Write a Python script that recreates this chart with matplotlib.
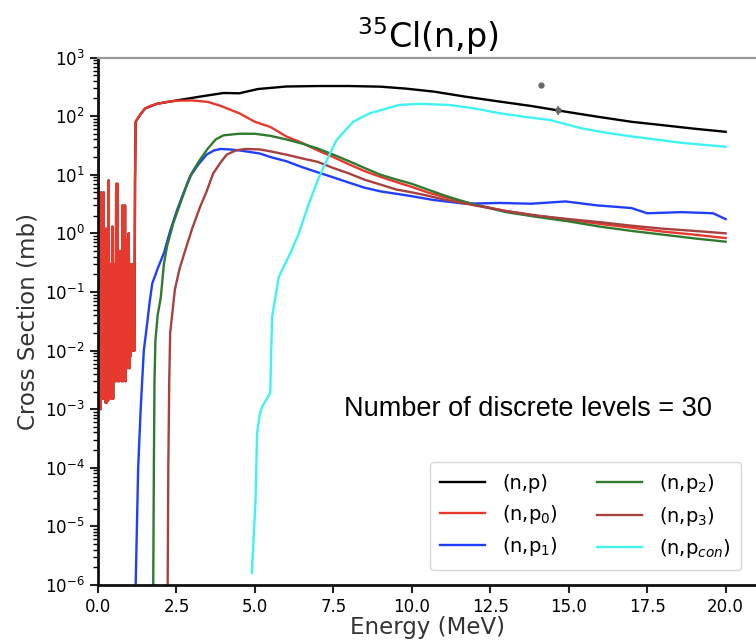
import numpy as np
import matplotlib
matplotlib.use("Agg")
import matplotlib.pyplot as plt
from matplotlib.ticker import LogLocator, NullFormatter

# resonance region of (n,p0), shared with the total below 1.2 MeV
res_E = [0.00, 0.02, 0.04, 0.06, 0.08, 0.10, 0.12, 0.14, 0.16, 0.18,
         0.20, 0.22, 0.24, 0.26, 0.28, 0.30, 0.32, 0.34, 0.36, 0.38,
         0.40, 0.42, 0.44, 0.46, 0.48, 0.50, 0.52, 0.54, 0.56, 0.58,
         0.60, 0.62, 0.64, 0.66, 0.68, 0.70, 0.72, 0.74, 0.76, 0.78,
         0.80, 0.82, 0.84, 0.86, 0.88, 0.90, 0.92, 0.94, 0.96, 0.98,
         1.00, 1.02, 1.04, 1.06, 1.08, 1.10, 1.12, 1.14, 1.16, 1.18]
res_xs = [500, 5, 0.002, 4, 0.001, 5, 0.0015, 0.5, 0.002, 5,
          0.0015, 0.3, 0.0013, 1.2, 0.0013, 0.3, 0.0014, 8, 0.0015, 0.3,
          0.002, 0.3, 0.0015, 1.3, 0.0015, 0.3, 0.003, 0.1, 0.003, 7,
          0.004, 7, 0.003, 0.3, 0.003, 0.5, 0.004, 0.3, 0.003, 3,
          0.003, 0.3, 0.004, 3, 0.003, 0.8, 0.005, 0.2, 0.006, 1.0,
          0.005, 0.3, 0.008, 0.1, 0.01, 0.3, 0.01, 0.05, 0.01, 8]

np_E = [1.2, 1.34, 1.5, 1.87, 2.5, 3.25, 4.0, 4.5, 5.1, 6.0, 7.0, 8.0, 9.0,
        9.8, 10.7, 11.7, 12.8, 13.8, 14.9, 15.9, 17.0, 18.0, 19.0, 20.0]
np_xs = [80, 105, 135, 162, 185, 215, 248, 245, 290, 320, 326, 326, 318,
         295, 262, 215, 177, 149, 119, 98, 80, 70, 61, 54]

p0_E = [1.2, 1.34, 1.5, 1.7, 1.9, 2.2, 2.5, 3.0, 3.5, 3.9, 4.5, 5.0, 5.5,
        6.0, 6.5, 7.0, 7.5, 8.0, 8.5, 9.0, 9.5, 10.0, 10.5, 11.0, 11.5,
        12.0, 13.0, 14.0, 15.0, 16.0, 17.0, 18.0, 19.0, 20.0]
p0_xs = [80, 105, 135, 152, 162, 175, 183, 185, 175, 150, 112, 80, 65,
         45, 35, 26, 20, 15, 11.5, 9.2, 7.5, 6.2, 5.0, 4.2, 3.6,
         3.1, 2.4, 2.0, 1.7, 1.45, 1.25, 1.07, 0.95, 0.83]

p1_E = [1.2, 1.24, 1.28, 1.36, 1.46, 1.57, 1.65, 1.73, 1.9, 2.1, 2.3, 2.52,
        2.7, 2.93, 3.2, 3.46, 3.7, 3.9, 4.2, 4.5, 5.16, 5.5, 6.0, 6.5, 7.0,
        7.5, 8.04, 8.5, 9.0, 9.54, 10.0, 10.7, 11.7, 12.8, 13.8, 14.9, 15.9,
        17.0, 17.5, 18.6, 19.6, 20.0]
p1_xs = [1e-6, 1e-5, 1e-4, 1e-3, 1e-2, 0.03, 0.07, 0.14, 0.25, 0.46, 1.1, 2.5,
         4.5, 9.3, 15, 22, 26, 27.5, 27, 26, 23, 20, 17, 13.5, 11,
         9, 7.2, 6.0, 5.2, 4.7, 4.3, 3.7, 3.2, 3.3, 3.2, 3.5, 3.0,
         2.7, 2.2, 2.3, 2.2, 1.75]

p2_E = [1.76, 1.78, 1.80, 1.83, 1.9, 2.0, 2.1, 2.2, 2.4, 2.6, 2.8, 3.0, 3.25,
        3.5, 3.75, 4.0, 4.5, 5.0, 5.5, 6.0, 6.5, 7.0, 7.5, 8.0, 8.5, 9.0,
        9.5, 10.0, 10.5, 11.0, 11.5, 12.0, 13.0, 14.0, 15.0, 16.0, 17.0,
        18.0, 19.0, 20.0]
p2_xs = [1e-6, 1e-4, 3e-3, 0.015, 0.04, 0.08, 0.3, 0.6, 1.5, 3, 6, 11, 18,
         28, 40, 47, 50, 50, 46, 40, 34, 28, 22, 17, 13, 10,
         8.3, 7.0, 5.6, 4.5, 3.7, 3.1, 2.3, 1.9, 1.6, 1.3, 1.1,
         0.95, 0.82, 0.72]

p3_E = [2.22, 2.24, 2.27, 2.3, 2.45, 2.6, 2.82, 3.0, 3.25, 3.45, 3.67, 3.9,
        4.1, 4.4, 4.7, 5.16, 5.5, 6.0, 6.5, 7.0, 7.5, 8.0, 8.5, 9.0, 9.5,
        10.0, 10.5, 11.0, 12.0, 13.0, 14.0, 15.0, 16.0, 17.0, 18.0, 19.0, 20.0]
p3_xs = [1e-6, 1e-4, 3e-3, 0.02, 0.11, 0.25, 0.6, 1.2, 2.8, 5, 10.5, 16,
         22, 26, 27.5, 27, 25, 22, 19, 16.6, 13, 10.5, 8.2, 6.8, 5.6,
         5.0, 4.4, 3.8, 3.0, 2.4, 2.0, 1.75, 1.55, 1.35, 1.2, 1.1, 1.0]

pcon_E = [4.9, 4.95, 5.02, 5.07, 5.15, 5.23, 5.49, 5.52, 5.55, 5.76, 6.13,
          6.4, 6.7, 7.0, 7.2, 7.6, 8.13, 8.66, 9.1, 9.6, 10.26, 11.2, 12.0,
          12.8, 13.6, 14.4, 15.4, 16.2, 17.0, 18.6, 20.0]
pcon_xs = [1.6e-6, 5e-6, 2.8e-5, 3.9e-4, 8e-4, 1.1e-3, 1.9e-3, 0.01, 0.038,
           0.18, 0.46, 1.0, 3.0, 8, 14, 39, 80, 112, 130, 155, 162, 155, 135,
           112, 97, 86, 62, 52, 45, 35, 30]

exp_E = [14.13, 14.66]
exp_xs = [340, 126]
exp_err = [0, 22]

fig = plt.figure(figsize=(7.56, 6.41), dpi=100)
ax = fig.add_axes([98 / 756, 1 - 585 / 641, (757 - 98) / 756, (585 - 57.5) / 641])

lw = 1.7
ax.semilogy(res_E + np_E, res_xs + np_xs, color="black", lw=lw, label="(n,p)")
ax.semilogy(res_E + p0_E, res_xs + p0_xs, color="#e8392e", lw=lw, label="(n,p$_0$)")
ax.semilogy(p1_E, p1_xs, color="#1f3fff", lw=lw, label="(n,p$_1$)")
ax.semilogy(p2_E, p2_xs, color="#2f7a2f", lw=lw, label="(n,p$_2$)")
ax.semilogy(p3_E, p3_xs, color="#a8403f", lw=lw, label="(n,p$_3$)")
ax.semilogy(pcon_E, pcon_xs, color="#40f2f2", lw=lw, label="(n,p$_{con}$)")
ax.errorbar(exp_E, exp_xs, yerr=exp_err, fmt="o", ms=3.5, color="#666666",
            elinewidth=1.2, capsize=0)

ax.set_xlim(0, 21)
ax.set_ylim(1e-6, 1e3)
ax.set_xticks([0, 2.5, 5, 7.5, 10, 12.5, 15, 17.5, 20])
ax.set_yticks([1e-6, 1e-5, 1e-4, 1e-3, 1e-2, 1e-1, 1e0, 1e1, 1e2, 1e3])
ax.yaxis.set_minor_locator(LogLocator(base=10, subs=range(2, 10), numticks=100))
ax.yaxis.set_minor_formatter(NullFormatter())
ax.tick_params(labelsize=12, width=1.5, length=6, color="#222222")
ax.tick_params(which="minor", width=1.0, length=3.5)

for s in ["left", "bottom"]:
    ax.spines[s].set_linewidth(2)
    ax.spines[s].set_color("#111111")
ax.spines["top"].set_linewidth(1.6)
ax.spines["top"].set_color("#999999")

ax.set_xlabel("Energy (MeV)", fontsize=16.5, color="#333333", labelpad=0)
ax.set_ylabel("Cross Section (mb)", fontsize=16.5, color="#333333", labelpad=4)
ax.set_title("$^{35}$Cl(n,p)", fontsize=24, pad=5)

ax.text(7.85, 1e-3, "Number of discrete levels = 30", fontsize=19.5,
        family="Liberation Sans", va="center", ha="left")

ax.legend(loc="lower right", ncol=2, fontsize=14, handlelength=2.3,
          borderpad=0.5, handletextpad=0.9, columnspacing=2.0,
          bbox_to_anchor=(0.99, 0.01))

fig.savefig("out.png", dpi=100)
